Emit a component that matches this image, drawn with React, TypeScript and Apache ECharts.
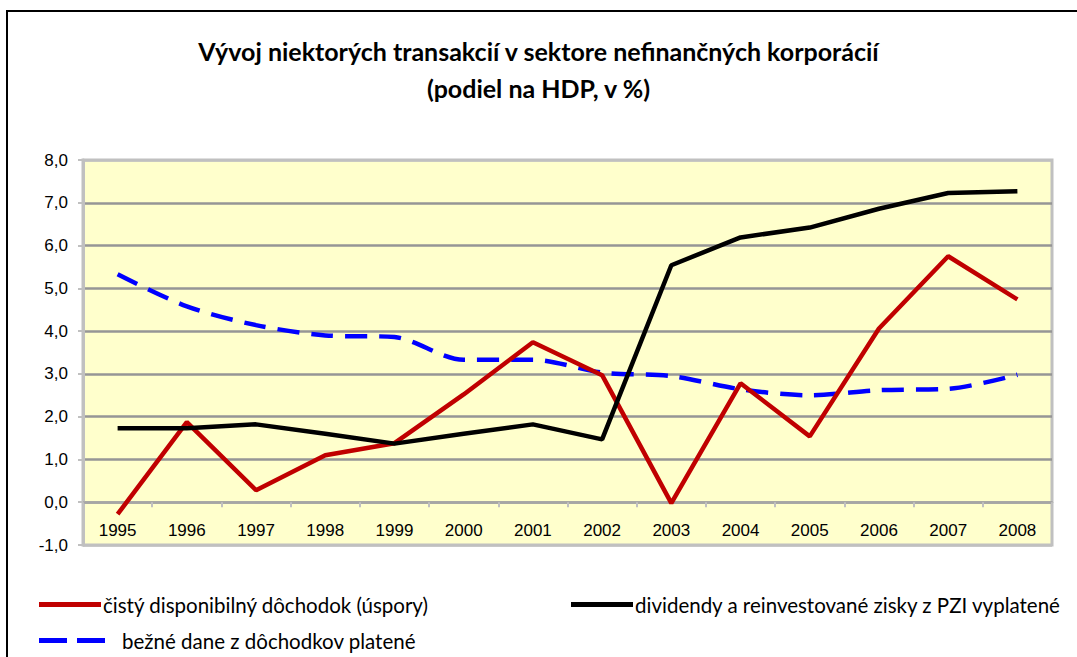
import React, { useEffect, useRef } from "react";
import * as echarts from "echarts";

const years = ["1995","1996","1997","1998","1999","2000","2001","2002","2003","2004","2005","2006","2007","2008"];
const savings = [-0.28, 1.87, 0.28, 1.1, 1.38, 2.52, 3.74, 2.97, -0.02, 2.78, 1.54, 4.06, 5.75, 4.74];
const dividends = [1.73, 1.73, 1.82, 1.6, 1.37, 1.6, 1.82, 1.47, 5.54, 6.19, 6.42, 6.86, 7.23, 7.27];
const taxes = [5.33, 4.58, 4.14, 3.9, 3.86, 3.33, 3.33, 3.03, 2.95, 2.64, 2.5, 2.62, 2.65, 2.98];

const nameSavings = "čistý disponibilný dôchodok (úspory)";
const nameDividends = "dividendy a reinvestované zisky z PZI vyplatené";
const nameTaxes = "bežné dane z dôchodkov platené";
const titleText = "Vývoj niektorých transakcií v sektore nefinančných korporácií\n(podiel na HDP, v %)";

const FONT_T = "Lato, 'Open Sans', sans-serif";
const FONT_A = "'Liberation Sans', Arial, sans-serif";

export default function App() {
  const ref = useRef<HTMLDivElement>(null);
  useEffect(() => {
    if (!ref.current) return;
    const chart = echarts.init(ref.current, null, { renderer: "svg" });
    const splitColors = ["#C0C0C0", "#969696", "#969696", "#969696", "#969696", "#969696", "#969696", "#969696", "#969696", "#C0C0C0"];
    const legendText = { fontFamily: FONT_T, fontSize: 20.5, color: "#000", padding: [0, 0, 0, -3] };
    chart.setOption({
      animation: false,
      backgroundColor: "#FFFFFF",
      title: {
        text: titleText,
        left: "center",
        top: 27,
        textStyle: { fontFamily: FONT_T, fontSize: 25, fontWeight: "bold", color: "#000", lineHeight: 37 },
      },
      graphic: [
        { type: "rect", shape: { x: 7, y: 11, width: 1200, height: 800 }, style: { fill: "none", stroke: "#000", lineWidth: 2 }, silent: true, z: 100 },
      ],
      legend: [
        {
          data: [{ name: nameSavings, icon: "rect" }], left: 34, top: 589, itemWidth: 62, itemHeight: 5,
          textStyle: legendText,
        },
        {
          data: [{ name: nameDividends, icon: "rect" }], left: 566, top: 589, itemWidth: 62, itemHeight: 5,
          textStyle: legendText,
        },
        {
          data: [{ name: nameTaxes, icon: "path://M0,0H28V5H0Z M38,0H66V5H38Z" }], left: 34, top: 625, itemWidth: 66, itemHeight: 5,
          textStyle: { ...legendText, padding: [0, 0, 0, 12] },
        },
      ],
      grid: {
        left: 83, right: 25, top: 160, bottom: 112,
        show: true, backgroundColor: "#FFFFCC", borderColor: "#C0C0C0", borderWidth: 3,
      },
      xAxis: {
        type: "category",
        data: years,
        boundaryGap: true,
        axisLine: { onZero: true, lineStyle: { color: "#A6A6A6", width: 2.5 } },
        axisTick: { show: true, length: 5, lineStyle: { color: "#C0C0C0", width: 2 } },
        axisLabel: { margin: -23, color: "#000", fontFamily: FONT_A, fontSize: 17, interval: 0 },
        splitLine: { show: false },
      },
      yAxis: {
        type: "value",
        min: -1,
        max: 8,
        interval: 1,
        axisLine: { show: true, lineStyle: { color: "#C0C0C0", width: 3 } },
        axisTick: { show: true, length: 5, lineStyle: { color: "#C0C0C0", width: 2 } },
        axisLabel: {
          margin: 15, color: "#000", fontFamily: FONT_A, fontSize: 17,
          formatter: (v: number) => v.toFixed(1).replace(".", ","),
        },
        splitLine: { show: true, lineStyle: { color: splitColors, width: 2.5 } },
      },
      series: [
        {
          name: nameSavings, type: "line", data: savings, symbol: "none",
          lineStyle: { color: "#C00000", width: 4.5 }, itemStyle: { color: "#C00000" }, z: 3,
        },
        {
          name: nameDividends, type: "line", data: dividends, symbol: "none",
          lineStyle: { color: "#000000", width: 4.5 }, itemStyle: { color: "#000000" }, z: 4,
        },
        {
          name: nameTaxes, type: "line", data: taxes, symbol: "none", smooth: 0.3,
          lineStyle: { color: "#0000FF", width: 4.5, type: [22, 12] }, itemStyle: { color: "#0000FF" }, z: 2,
        },
      ],
    });
    return () => chart.dispose();
  }, []);
  return <div ref={ref} style={{ position: "fixed", left: 0, top: 0, width: 1077, height: 657 }} />;
}
